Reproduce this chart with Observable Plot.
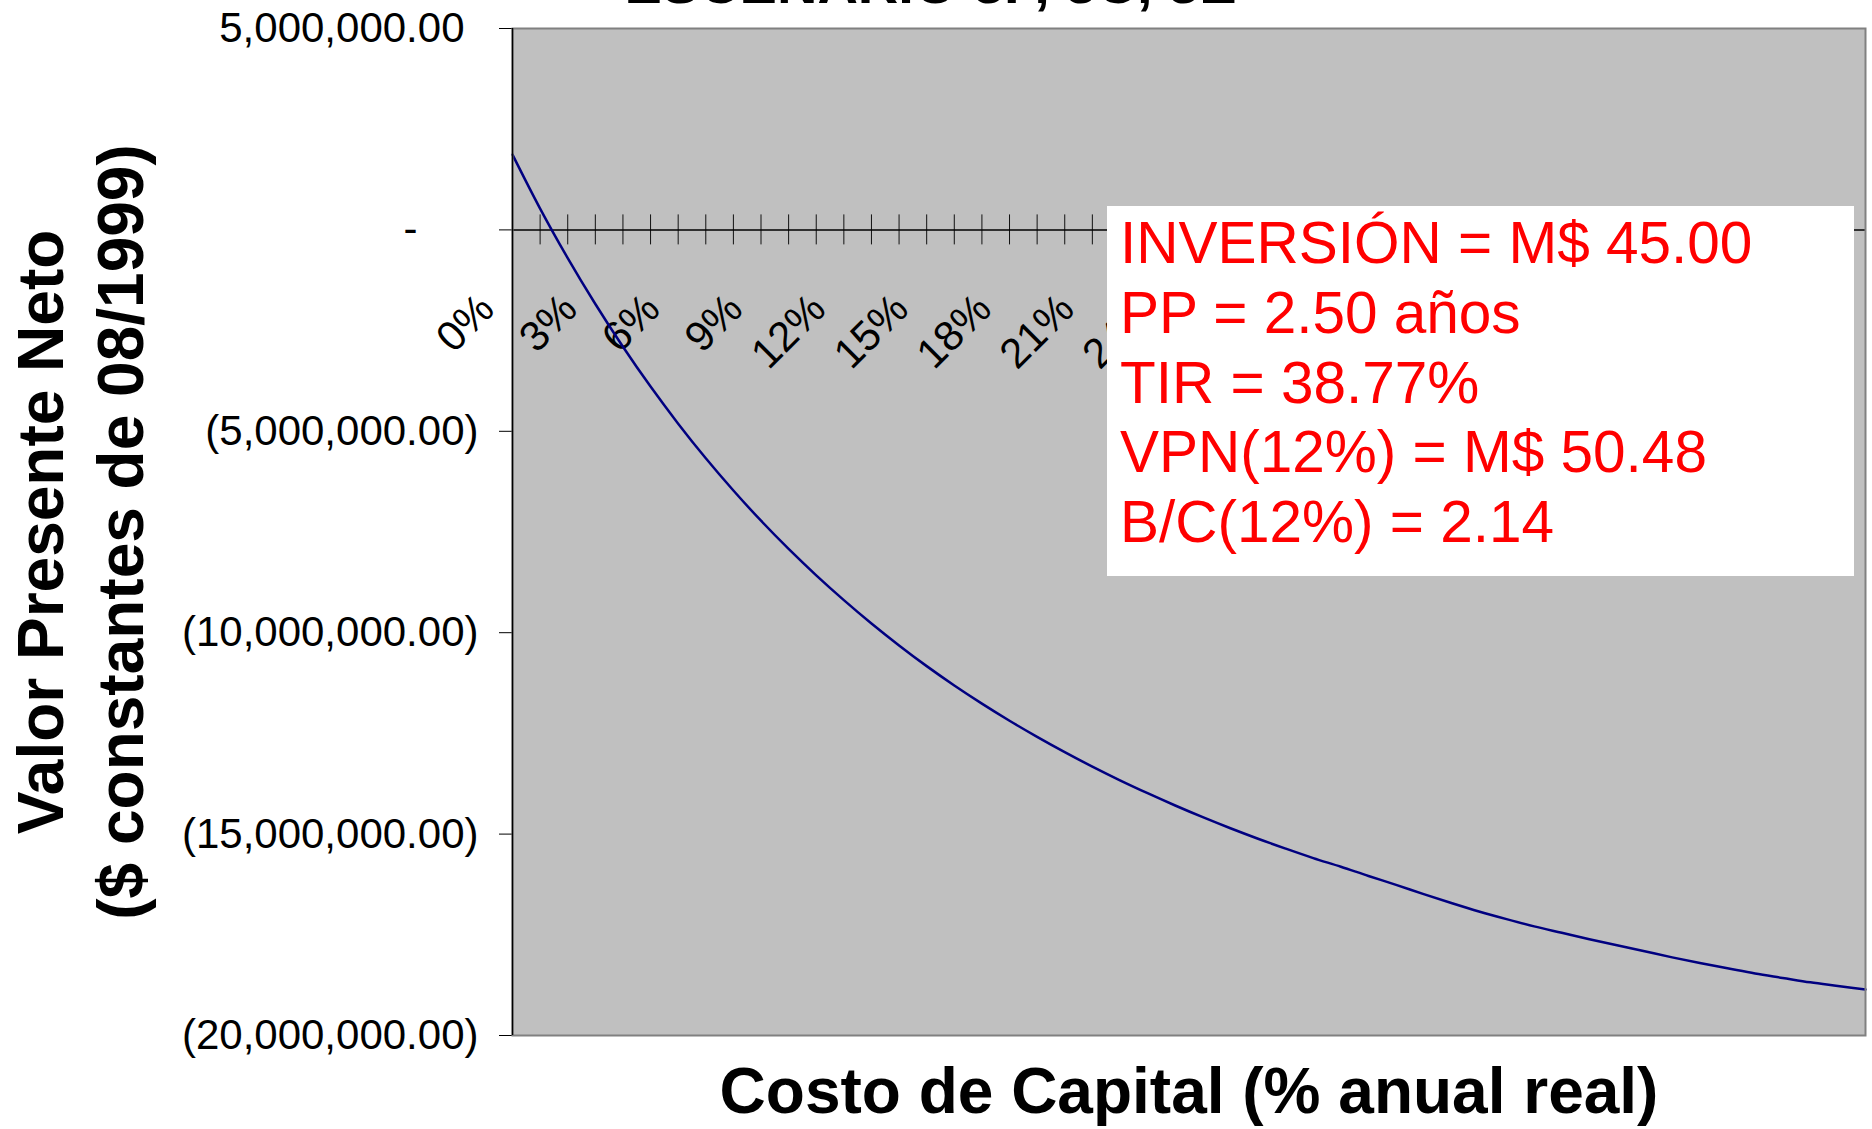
<!DOCTYPE html>
<html>
<head>
<meta charset="utf-8">
<script src="https://cdn.jsdelivr.net/npm/d3@7"></script>
<script src="https://cdn.jsdelivr.net/npm/@observablehq/plot@0.6"></script>
<style>
  html, body { margin: 0; padding: 0; background: white; overflow: hidden; }
  #chart { position: relative; width: 1872px; height: 1129px; }
  #info {
    position: absolute; left: 1107px; top: 206px; width: 747px; height: 370px;
    background: white; color: #FF0000; box-sizing: border-box;
    padding: 2px 0 0 13px; font-family: "Liberation Sans", Arial, sans-serif;
    font-size: 58.5px; line-height: 69.75px; white-space: pre;
  }
</style>
</head>
<body>
<div id="chart"></div>
<script>
// ---- data ----
const title = "ESCENARIO 3P, 3C, 3E";
const yTitle = "Valor Presente Neto\n($ constantes de 08/1999)";
const xTitle = "Costo de Capital (% anual real)";
const categories = ["0%","1%","2%","3%","4%","5%","6%","7%","8%","9%",
  "10%","11%","12%","13%","14%","15%","16%","17%","18%","19%",
  "20%","21%","22%","23%","24%","25%","26%","27%","28%","29%",
  "30%","31%","32%","33%","34%","35%","36%","37%","38%","39%",
  "40%","41%","42%","43%","44%","45%","46%","47%","48%","49%"];
const npv = [1870000, 530000, -700000, -1840000, -2900000, -3890000, -4810000, -5670000, -6470000, -7220000,
  -7920000, -8575000, -9190000, -9770000, -10315000, -10830000, -11310000, -11760000, -12185000, -12585000,
  -12965000, -13325000, -13665000, -13985000, -14290000, -14580000, -14855000, -15115000, -15360000, -15595000,
  -15810000, -16040000, -16260000, -16490000, -16710000, -16920000, -17110000, -17290000, -17450000, -17610000,
  -17760000, -17910000, -18060000, -18200000, -18330000, -18460000, -18570000, -18680000, -18770000, -18860000];
const xLabels = ["0%","3%","6%","9%","12%","15%","18%","21%","24%","27%","30%","33%","36%","39%","42%","45%","48%"];
const yTicks = [5000000, 0, -5000000, -10000000, -15000000, -20000000];
const infoLines = ["INVERSIÓN = M$ 45.00", "PP = 2.50 años", "TIR = 38.77%", "VPN(12%) = M$ 50.48", "B/C(12%) = 2.14"];

// ---- chart ----
const rows = categories.map((c, i) => ({rate: c, npv: npv[i]}));
const f2 = d3.format(",.2f");
const fmt = v => v > 0 ? f2(v) : v < 0 ? "(" + f2(-v) + ")" : "-";
const FONT = "Liberation Sans, Arial, Helvetica, sans-serif";

const plot = Plot.plot({
  width: 1872,
  height: 1129,
  marginLeft: 512,
  marginTop: 28,
  marginRight: 7,
  marginBottom: 94,
  style: {fontFamily: FONT, fontSize: "42px", background: "white", color: "black", overflow: "visible"},
  x: {type: "point", domain: categories, padding: 0, round: false, axis: null},
  y: {domain: [-20000000, 5000000], label: null},
  marks: [
    Plot.frame({fill: "#C0C0C0"}),
    Plot.axisY({ticks: yTicks.filter(v => v < 0), tickSize: 13, tickPadding: 21, tickFormat: fmt, label: null, fontSize: 42, stroke: "black"}),
    Plot.axisY({ticks: yTicks.filter(v => v > 0), tickSize: 13, tickPadding: 35, tickFormat: fmt, label: null, fontSize: 42, stroke: "black"}),
    Plot.axisY({ticks: yTicks.filter(v => v === 0), tickSize: 13, tickPadding: 82, tickFormat: fmt, label: null, fontSize: 42, stroke: "black"}),
    Plot.ruleX(categories, {x: d => d, y1: 0, y2: 0, insetTop: -15, insetBottom: -15, stroke: "#111", strokeWidth: 1}),
    Plot.ruleY([0], {stroke: "black", strokeWidth: 1.5}),
    Plot.text(xLabels, {x: d => d, y: 0, text: d => d, rotate: -45, textAnchor: "end", lineAnchor: "middle", dx: -25.5, dy: 72, fontSize: 42, fill: "black"}),
    Plot.line(rows, {x: "rate", y: "npv", stroke: "#000080", strokeWidth: 2.5, curve: "monotone-x"}),
    Plot.frame({stroke: "#808080", strokeWidth: 2}),
    Plot.ruleX([categories[0]], {stroke: "black", strokeWidth: 1.5}),
    Plot.text([yTitle], {frameAnchor: "left", text: d => d, rotate: -90, textAnchor: "middle", lineAnchor: "middle", lineHeight: 1.25, dx: -435.5, fontSize: 64, fontWeight: "bold", fill: "black"}),
    Plot.text([xTitle], {frameAnchor: "bottom", text: d => d, textAnchor: "middle", lineAnchor: "middle", dy: 57.5, fontSize: 64, fontWeight: "bold", fill: "black"}),
    Plot.text([title], {frameAnchor: "top", text: d => d, textAnchor: "middle", lineAnchor: "middle", dx: -258.5, dy: -43.4, fontSize: 56, fontWeight: "bold", fill: "black"})
  ]
});

const chart = document.getElementById("chart");
chart.appendChild(plot);
const info = document.createElement("div");
info.id = "info";
info.textContent = infoLines.join("\n");
chart.appendChild(info);
</script>
</body>
</html>
